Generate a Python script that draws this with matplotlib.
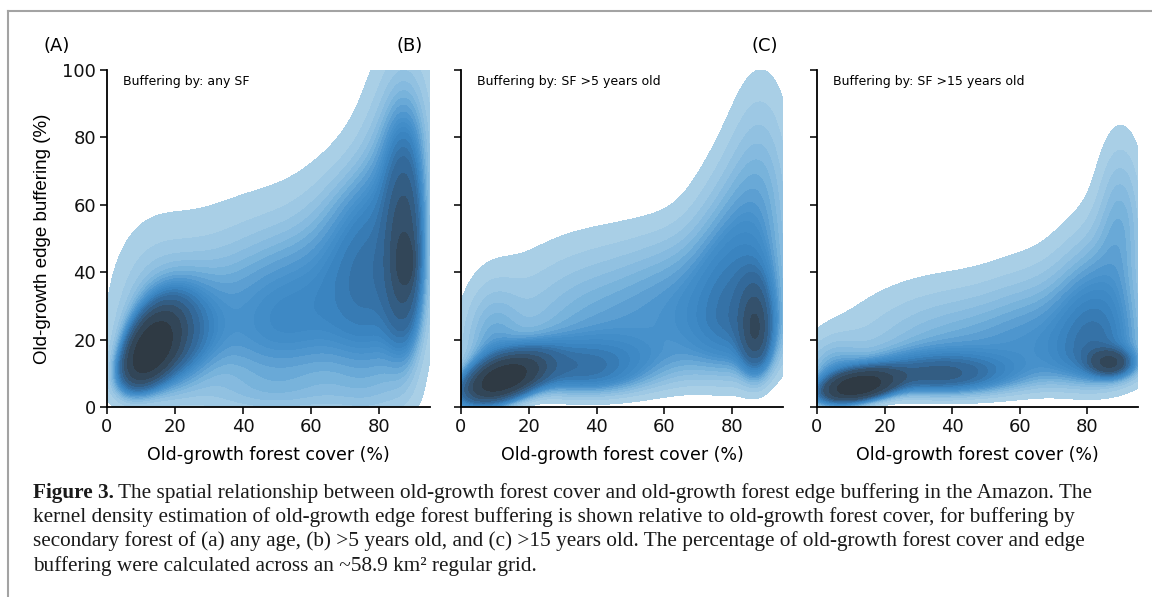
import numpy as np
import matplotlib.pyplot as plt
from matplotlib.colors import LinearSegmentedColormap
from matplotlib.lines import Line2D

# Density blobs:
# (centre x, centre y, spread x, spread y below, spread y above, tilt, height)
blobs_any = [
    (12, 16, 5.5, 7, 8, 0.5, 2.0),
    (18, 18, 9, 10, 12, 0.3, 0.8),
    (42, 24, 22, 20, 27, 0.0, 0.7),
    (58, 28, 14, 18, 22, 0.0, 0.35),
    (12, 30, 10, 15, 21, 0.0, 0.32),
    (80, 40, 10, 30, 30, 0.0, 0.8),
    (88, 45, 4, 20, 22, 0.0, 1.0),
    (88, 43, 1.5, 4, 4, 0.0, 0.5),
    (88, 85, 8, 20, 25, 0.0, 0.5),
    (68, 58, 10, 20, 14, 0.0, 0.2),
    (50, 3, 25, 5, 5, 0.0, 0.15),
]
blobs_5yr = [
    (12, 8, 8, 4.5, 5, 0.5, 2.0),
    (35, 10, 13, 4.5, 6, 0.0, 0.45),
    (45, 18, 25, 9, 22, 0.0, 0.45),
    (9, 17, 6, 12, 14, 0.0, 0.25),
    (82, 28, 10, 12, 28, 0.0, 0.6),
    (87, 22, 3, 8, 10, 0.0, 0.8),
    (89, 72, 7, 20, 25, 0.0, 0.2),
    (62, 35, 10, 12, 14, 0.0, 0.12),
]
blobs_15yr = [
    (12, 6, 7, 2.8, 3.2, 0.35, 2.0),
    (35, 9, 14, 3.5, 4.5, 0.0, 0.6),
    (45, 13, 25, 6, 16, 0.0, 0.4),
    (5, 10, 6, 8, 7, 0.0, 0.25),
    (83, 17, 9, 7, 22, 0.0, 0.6),
    (87, 13, 4, 2.5, 2.5, 0.0, 0.8),
    (90, 58, 5, 15, 18, 0.0, 0.25),
    (64, 22, 10, 8, 16, 0.0, 0.15),
]

panel_tags = ['(A)', '(B)', '(C)']
panel_notes = ['Buffering by: any SF', 'Buffering by: SF >5 years old',
               'Buffering by: SF >15 years old']
x_ticks = [0, 20, 40, 60, 80]
y_ticks = [0, 20, 40, 60, 80, 100]

caption_lines = [
    'The spatial relationship between old-growth forest cover and old-growth forest edge buffering in the Amazon. The',
    'kernel density estimation of old-growth edge forest buffering is shown relative to old-growth forest cover, for buffering by',
    'secondary forest of (a) any age, (b) >5 years old, and (c) >15 years old. The percentage of old-growth forest cover and edge',
    'buffering were calculated across an ~58.9 km\u00b2 regular grid.',
]

X_MAX, Y_MAX = 95, 100
N_LEVELS = 20
THRESH = 0.05

cmap = LinearSegmentedColormap.from_list('kde_blues', [
    (0.0, '#a9cfe6'), (0.2, '#7db6dd'), (0.4, '#4b94cd'), (0.6, '#3a86c3'),
    (0.78, '#33699a'), (0.9, '#344f68'), (1.0, '#2f3a44'),
])


def density(blobs, gx, gy):
    d = np.zeros_like(gx)
    for cx, cy, sx, sdn, sup, rho, h in blobs:
        dx = (gx - cx) / sx
        dy = np.where(gy < cy, (gy - cy) / sdn, (gy - cy) / sup)
        q = (dx ** 2 - 2 * rho * dx * dy + dy ** 2) / (1 - rho ** 2)
        d += h * np.exp(-0.5 * q)
    return d


def iso_levels(d, props):
    vals = np.sort(d.ravel())[::-1]
    cum = np.cumsum(vals) / vals.sum()
    idx = np.searchsorted(cum, 1 - np.asarray(props))
    return np.take(vals, idx, mode='clip')


plt.rcParams['font.family'] = ['DejaVu Sans']
fig = plt.figure(figsize=(11.52, 5.97), dpi=100)

gx, gy = np.meshgrid(np.linspace(0, X_MAX, 400), np.linspace(0, Y_MAX, 400))

lefts = [107, 461, 817]
widths = [323, 322, 321]
for i, blobs in enumerate([blobs_any, blobs_5yr, blobs_15yr]):
    ax = fig.add_axes([lefts[i] / 1152, 1 - 407 / 597, widths[i] / 1152, 337 / 597])
    d = density(blobs, gx, gy)
    levels = np.unique(iso_levels(d, np.linspace(THRESH, 1, N_LEVELS)))
    colors = [cmap(v) for v in np.linspace(0, 1, len(levels) - 1)]
    cs = ax.contourf(gx, gy, d, levels=levels, colors=colors)
    cs.set_edgecolor('face')
    cs.set_linewidth(0.6)
    ax.set_xlim(0, X_MAX)
    ax.set_ylim(0, Y_MAX)
    ax.set_xticks(x_ticks)
    ax.set_yticks(y_ticks)
    for side in ['top', 'right']:
        ax.spines[side].set_visible(False)
    for side in ['left', 'bottom']:
        ax.spines[side].set_linewidth(1.3)
    ax.tick_params(direction='out', length=5, width=1.2, labelsize=13, pad=3,
                   colors='#111111')
    if i > 0:
        ax.set_yticklabels([])
    else:
        ax.set_ylabel('Old-growth edge buffering (%)', fontsize=13.5, labelpad=8,
                      family='Liberation Sans')
    ax.set_xlabel('Old-growth forest cover (%)', fontsize=12.5, labelpad=7)
    ax.text(0.05, 0.965, panel_notes[i], transform=ax.transAxes,
            fontsize=9, va='center', ha='left')

for tag, xp in zip(panel_tags, [57, 410, 765]):
    fig.text(xp / 1152, 1 - 46 / 597, tag, fontsize=13, ha='center', va='center')

# frame around the figure block
fig.add_artist(Line2D([8 / 1152, 1], [1 - 11 / 597] * 2, color='#a3a3a3', lw=1.5,
                      transform=fig.transFigure))
fig.add_artist(Line2D([8 / 1152] * 2, [0, 1 - 11 / 597], color='#a3a3a3', lw=1.5,
                      transform=fig.transFigure))

serif = ['Liberation Serif', 'DejaVu Serif']
cap_size = 15.3
line_y = [493, 517, 541, 566]
head = fig.text(33 / 1152, 1 - line_y[0] / 597, 'Figure 3.', family=serif,
                fontsize=cap_size, fontweight='bold', va='center', ha='left',
                color='#1a1a1a')
fig.canvas.draw()
bb = head.get_window_extent()
fig.text((bb.x1 + 4) / 1152, 1 - line_y[0] / 597, caption_lines[0], family=serif,
         fontsize=cap_size, va='center', ha='left', color='#1a1a1a')
for ln, yp in zip(caption_lines[1:], line_y[1:]):
    fig.text(33 / 1152, 1 - yp / 597, ln, family=serif, fontsize=cap_size,
             va='center', ha='left', color='#1a1a1a')

fig.savefig('out.png', dpi=100)
